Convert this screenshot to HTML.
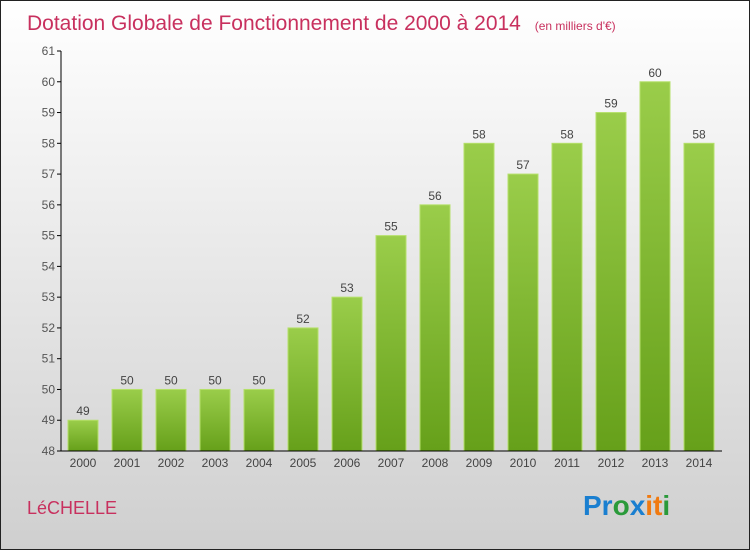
<!DOCTYPE html>
<html><head><meta charset="utf-8"><style>
body{margin:0}
#c{position:relative;width:748px;height:548px;border:1px solid #222;background:linear-gradient(#ffffff,#cfcfcf);font-family:"Liberation Sans",sans-serif;overflow:hidden}
</style></head><body>
<div id="c">
<svg width="748" height="548" id="s">
<defs><linearGradient id="g" x1="0" y1="0" x2="0" y2="1"><stop offset="0" stop-color="#9acd4a"/><stop offset="1" stop-color="#66a01a"/></linearGradient></defs>
<text x="26" y="29" font-size="21" fill="#c8305e">Dotation Globale de Fonctionnement de 2000 à 2014 <tspan font-size="12" dx="8">(en milliers d'€)</tspan></text>
<text x="26" y="513" font-size="18" fill="#c8305e">LéCHELLE</text>
<text x="582" y="514" font-size="28" font-weight="bold"><tspan fill="#1a7fd0">Pr</tspan><tspan fill="#2a9a3a">o</tspan><tspan fill="#1a7fd0">x</tspan><tspan fill="#f07a10">i</tspan><tspan fill="#f07a10">t</tspan><tspan fill="#2a9a3a">i</tspan></text>
<g id="plot"></g>
</svg></div>
<script>
const years=["2000","2001","2002","2003","2004","2005","2006","2007","2008","2009","2010","2011","2012","2013","2014"];
const values=[49,50,50,50,50,52,53,55,56,58,57,58,59,60,58];
const yTicks=[48,49,50,51,52,53,54,55,56,57,58,59,60,61];
const ns="http://www.w3.org/2000/svg";
const g=document.getElementById('plot');
const y=v=>450-(v-48)*400/13;
const x=i=>82+i*44;
function el(t,a,txt){const e=document.createElementNS(ns,t);for(const k in a)e.setAttribute(k,a[k]);if(txt!==undefined)e.textContent=txt;g.appendChild(e);return e;}
yTicks.forEach(v=>{
 const t=el('line',{x1:56,x2:60,y1:y(v),y2:y(v),stroke:'#000'});
 
 
 const l=el('text',{x:54,y:y(v)+4,'text-anchor':'end','font-size':12,fill:'#555'},v);
 
 
});
values.forEach((v,i)=>{
 const b=el('rect',{x:x(i)-15,y:y(v),width:30,height:450-y(v),fill:'url(#g)',stroke:'#b5e06a','stroke-width':1});
 
 
 const vl=el('text',{x:x(i),y:y(v)-5,'text-anchor':'middle','font-size':12,fill:'#444'},v);
 
 
 const xl=el('text',{x:x(i),y:466,'text-anchor':'middle','font-size':12,fill:'#444'},years[i]);
 
 
});
const ya=el('line',{x1:60,x2:60,y1:50,y2:450,stroke:'#000'});


const xa=el('line',{x1:60,x2:721,y1:450,y2:450,stroke:'#000'});


</script>
</body></html>
